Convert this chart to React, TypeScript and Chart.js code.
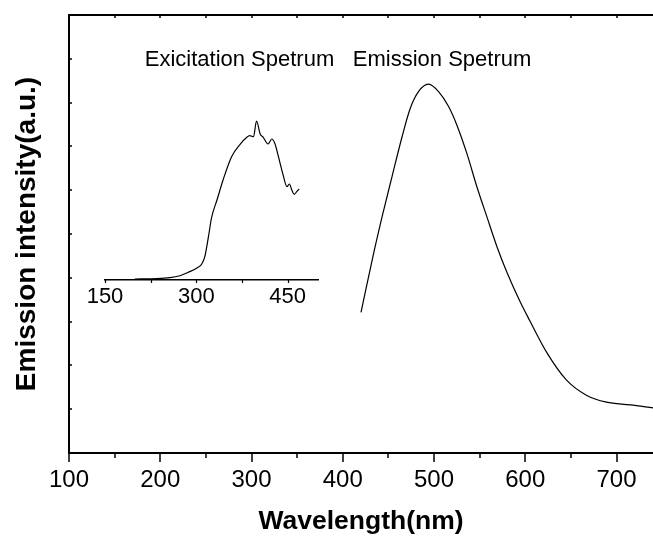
import React, { useEffect, useRef } from "react";
import { Chart, registerables } from "chart.js";

Chart.register(...registerables);

// ---- axis ticks / labels ----
const X_MAJOR = [100, 200, 300, 400, 500, 600, 700];
const X_MINOR = [150, 250, 350, 450, 550, 650];
const Y_TICKS = [0, 1, 2, 3, 4, 5, 6, 7, 8, 9, 10];
const INSET_MAJOR = [150, 300, 450];
const INSET_MINOR = [225, 375];

const X_TITLE = "Wavelength(nm)";
const Y_TITLE = "Emission intensity(a.u.)";
const LABEL_EX = "Exicitation Spetrum";
const LABEL_EM = "Emission Spetrum";

// ---- emission spectrum (main axes) ----
const emWl = [420, 433, 444, 454, 465, 474, 483, 494, 505, 516, 525, 536, 547, 558, 569, 580, 594, 605, 624, 645, 667, 689, 715, 740];
const emVal = [3.21, 4.48, 5.47, 6.31, 7.22, 7.87, 8.25, 8.42, 8.25, 7.91, 7.49, 6.84, 6.08, 5.39, 4.71, 4.12, 3.47, 3.02, 2.28, 1.67, 1.32, 1.16, 1.1, 1.03];

// ---- excitation spectrum (inset axes) ----
const exWl = [199, 235, 257, 273, 287, 301, 309, 314, 320, 325, 334, 344, 358, 372, 383, 388, 394, 399, 405, 410, 418, 424, 429, 435, 442, 449, 453, 457, 461, 465, 469];
const exVal = [0.1, 0.13, 0.23, 0.43, 0.77, 1.2, 1.6, 2.33, 4.33, 6.2, 8, 10, 12.33, 13.57, 14.27, 14.43, 14.33, 15.9, 14.6, 14.27, 13.6, 14.1, 13.67, 12.33, 10.67, 9.33, 9.6, 9, 8.57, 8.83, 9.1];

// annotation anchor points (data space of the main axes)
const ANNOTATIONS = [
  { text: LABEL_EX, x: 183, y: 8.84 },
  { text: LABEL_EM, x: 411, y: 8.84 },
];

const FONT = '"Liberation Sans", Arial, Helvetica, sans-serif';

const mainDecor = {
  id: "mainDecor",
  afterDraw(chart: any) {
    const { ctx, chartArea, scales } = chart;
    const { left, right, top, bottom } = chartArea;
    const x = scales.x;
    const y = scales.y;
    ctx.save();
    ctx.strokeStyle = "#000";
    ctx.lineWidth = 2;
    ctx.beginPath();
    ctx.moveTo(left - 1, top);
    ctx.lineTo(right, top);
    ctx.stroke();

    ctx.lineWidth = 1.5;
    ctx.beginPath();
    X_MAJOR.forEach((v) => {
      const p = Math.round(x.getPixelForValue(v));
      ctx.moveTo(p, bottom);
      ctx.lineTo(p, bottom + 9);
    });
    X_MINOR.forEach((v) => {
      const p = Math.round(x.getPixelForValue(v));
      ctx.moveTo(p, bottom);
      ctx.lineTo(p, bottom + 5);
    });
    [...X_MAJOR, ...X_MINOR].forEach((v) => {
      const p = Math.round(x.getPixelForValue(v));
      ctx.moveTo(p, top);
      ctx.lineTo(p, top + 3);
    });
    Y_TICKS.forEach((v) => {
      const p = Math.round(y.getPixelForValue(v));
      ctx.moveTo(left, p);
      ctx.lineTo(left + 3, p);
    });
    ctx.stroke();

    ctx.fillStyle = "#000";
    ctx.font = `22px ${FONT}`;
    ctx.textAlign = "left";
    ctx.textBaseline = "alphabetic";
    ANNOTATIONS.forEach((a) => {
      ctx.fillText(a.text, x.getPixelForValue(a.x), y.getPixelForValue(a.y));
    });
    ctx.restore();
  },
};

const insetDecor = {
  id: "insetDecor",
  afterDraw(chart: any) {
    const { ctx, chartArea, scales } = chart;
    const x = scales.x;
    ctx.save();
    ctx.strokeStyle = "#000";
    ctx.lineWidth = 1.2;
    ctx.beginPath();
    [...INSET_MAJOR, ...INSET_MINOR].forEach((v) => {
      const p = Math.round(x.getPixelForValue(v)) + 0.5;
      ctx.moveTo(p, chartArea.bottom);
      ctx.lineTo(p, chartArea.bottom + 3);
    });
    ctx.stroke();
    ctx.restore();
  },
};

export default function App() {
  const mainRef = useRef<HTMLCanvasElement>(null);
  const insetRef = useRef<HTMLCanvasElement>(null);

  useEffect(() => {
    Chart.defaults.font.family = FONT;
    Chart.defaults.color = "#000";

    const main = new Chart(mainRef.current!, {
      type: "line",
      data: {
        datasets: [
          {
            data: emWl.map((w, i) => ({ x: w, y: emVal[i] })),
            borderColor: "#000",
            borderWidth: 1.2,
            pointRadius: 0,
            cubicInterpolationMode: "monotone",
            fill: false,
          },
        ],
      },
      options: {
        animation: false,
        responsive: false,
        events: [],
        layout: { padding: { top: 15, left: 0, right: 0, bottom: 0 } },
        plugins: { legend: { display: false }, tooltip: { enabled: false } },
        scales: {
          x: {
            type: "linear",
            min: 100,
            max: 740,
            afterBuildTicks: (s: any) => {
              s.ticks = X_MAJOR.map((v) => ({ value: v }));
            },
            afterFit: (s: any) => {
              s.height = 86;
            },
            grid: { display: false, drawTicks: false },
            border: { display: true, color: "#000", width: 2 },
            ticks: {
              color: "#000",
              font: { size: 24 },
              padding: 13,
              maxRotation: 0,
              autoSkip: false,
              callback: (v: any) => String(v),
            },
            title: {
              display: true,
              text: X_TITLE,
              color: "#000",
              font: { size: 26.5, weight: "bold" },
              padding: { top: 0, bottom: 1 },
            },
          },
          y: {
            type: "linear",
            min: 0,
            max: 10,
            afterFit: (s: any) => {
              s.width = 69;
            },
            grid: { display: false, drawTicks: false },
            border: { display: true, color: "#000", width: 2 },
            ticks: { display: false },
            title: {
              display: true,
              text: Y_TITLE,
              color: "#000",
              font: { size: 28, weight: "bold" },
              padding: { top: 10, bottom: 0 },
            },
          },
        },
      } as any,
      plugins: [mainDecor],
    });

    const inset = new Chart(insetRef.current!, {
      type: "line",
      data: {
        datasets: [
          {
            data: exWl.map((w, i) => ({ x: w, y: exVal[i] })),
            borderColor: "#000",
            borderWidth: 1.2,
            pointRadius: 0,
            cubicInterpolationMode: "monotone",
            fill: false,
          },
        ],
      },
      options: {
        animation: false,
        responsive: false,
        events: [],
        layout: { padding: { left: 25, right: 22, top: 10, bottom: 0 } },
        plugins: { legend: { display: false }, tooltip: { enabled: false } },
        scales: {
          x: {
            type: "linear",
            min: 150,
            max: 500,
            afterBuildTicks: (s: any) => {
              s.ticks = INSET_MAJOR.map((v) => ({ value: v }));
            },
            afterFit: (s: any) => {
              s.height = 40;
            },
            grid: { display: false, drawTicks: false },
            border: { display: true, color: "#000", width: 1.5 },
            ticks: {
              color: "#000",
              font: { size: 22 },
              padding: 4,
              maxRotation: 0,
              autoSkip: false,
              callback: (v: any) => String(v),
            },
          },
          y: { type: "linear", display: false, min: 0, max: 18 },
        },
      } as any,
      plugins: [insetDecor],
    });

    return () => {
      main.destroy();
      inset.destroy();
    };
  }, []);

  return (
    <div style={{ position: "absolute", left: 0, top: 0, width: 653, height: 539, background: "#fff" }}>
      <canvas ref={mainRef} width={653} height={539} style={{ position: "absolute", left: 0, top: 0 }} />
      <canvas ref={insetRef} width={260} height={230} style={{ position: "absolute", left: 80, top: 90 }} />
    </div>
  );
}
